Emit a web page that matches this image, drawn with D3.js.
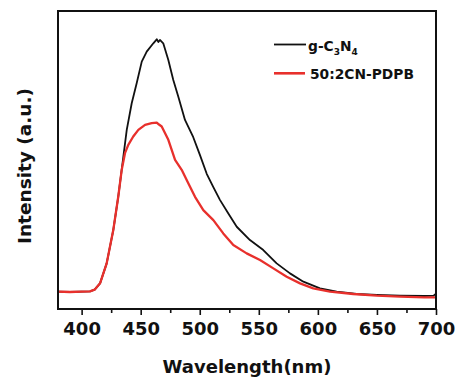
<!DOCTYPE html>
<html>
<head>
<meta charset="utf-8">
<script src="https://cdn.jsdelivr.net/npm/d3@7"></script>
<style>
  body { margin: 0; background: #fff; }
  text { font-family: "DejaVu Sans", sans-serif; font-weight: bold; fill: #111; }
</style>
</head>
<body>
<script>
// PL spectra (wavelength nm, intensity a.u.)
var blackWl = [380, 390, 400, 407.1, 411, 415.6, 421.2, 426.8, 431, 435.3, 438.2, 442.4, 446.6, 450.9, 455.1, 460.7, 463.6, 465, 466.3, 469.1, 473.4, 477.6, 481.8, 487.5, 494.5, 500.2, 505.9, 511.5, 517.2, 524.2, 531.3, 542.5, 553.8, 565.1, 576.4, 587.7, 601.8, 615.9, 632.9, 650, 669.5, 690, 698, 700];
var blackI  = [52, 51, 52, 53, 58, 77, 137, 237, 337, 457, 538, 618, 678, 743, 773, 798, 810, 802, 808, 798, 748, 688, 638, 568, 516, 462, 406, 366, 327, 287, 247, 207, 177, 137, 107, 82, 62, 52, 45, 42, 40, 39, 40, 46];

var redWl = [380, 390, 400, 407.1, 411, 415.6, 421.2, 426.8, 431, 433.9, 436.7, 439.5, 443.7, 448, 453.7, 459.3, 463.6, 465.5, 467.8, 473.4, 479.1, 484.7, 490.3, 496, 503, 511.5, 519.9, 528.4, 539.7, 551, 562.3, 573.6, 584.9, 596.1, 610.3, 630, 650, 669.5, 690, 700];
var redI  = [52, 51, 52, 53, 58, 77, 137, 237, 337, 417, 468, 493, 518, 538, 553, 558, 560, 554, 548, 508, 448, 418, 378, 337, 297, 267, 227, 192, 167, 147, 122, 97, 77, 62, 52, 45, 40, 37, 35, 35];

var xTicks = [400, 450, 500, 550, 600, 650, 700];
var xMinor = [425, 475, 525, 575, 625, 675];
var seriesNames = ["g-C3N4", "50:2CN-PDPB"];
var seriesColors = ["#111111", "#e8302c"];

(function(){

var width = 455, height = 377;
var mLeft = 58, mRight = 436, mTop = 11, mBottom = 309;

var svg = d3.select("body").append("svg")
    .attr("width", width)
    .attr("height", height);

var x = d3.scaleLinear().domain([380, 700]).range([mLeft, mRight]);
var y = d3.scaleLinear().domain([0, 895]).range([mBottom, mTop]);

//minor ticks first so the major axis draws on top
svg.append("g")
    .attr("transform", "translate(0," + mBottom + ")")
    .call(d3.axisBottom(x).tickValues(xMinor).tickSize(4).tickFormat(""))
    .call(function(g){ g.select(".domain").remove(); })
    .selectAll("line").attr("stroke", "#111").attr("stroke-width", 1.6);

var xAxis = svg.append("g")
    .attr("transform", "translate(0," + mBottom + ")")
    .call(d3.axisBottom(x).tickValues(xTicks).tickSize(6).tickSizeOuter(0).tickPadding(7));
xAxis.select(".domain").remove();
xAxis.selectAll("line").attr("stroke", "#111").attr("stroke-width", 1.6);
xAxis.selectAll("text")
    .style("font-family", "'DejaVu Sans', sans-serif")
    .style("font-weight", "bold")
    .style("font-size", "18px")
    .attr("fill", "#111");

//curves
var line = d3.line()
    .x(function(d){ return x(d[0]); })
    .y(function(d){ return y(d[1]); });

var blackData = blackWl.map(function(w, i){ return [w, blackI[i]]; });
var redData = redWl.map(function(w, i){ return [w, redI[i]]; });

svg.append("path")
    .datum(blackData)
    .attr("d", line)
    .attr("fill", "none")
    .attr("stroke", seriesColors[0])
    .attr("stroke-width", 1.8)
    .attr("stroke-linejoin", "round");

svg.append("path")
    .datum(redData)
    .attr("d", line)
    .attr("fill", "none")
    .attr("stroke", seriesColors[1])
    .attr("stroke-width", 2.3)
    .attr("stroke-linejoin", "round");

//frame
svg.append("rect")
    .attr("x", mLeft)
    .attr("y", mTop)
    .attr("width", mRight - mLeft)
    .attr("height", mBottom - mTop)
    .attr("fill", "none")
    .attr("stroke", "#111")
    .attr("stroke-width", 2);

//legend
svg.append("line")
    .attr("x1", 274).attr("x2", 306).attr("y1", 44.5).attr("y2", 44.5)
    .attr("stroke", seriesColors[0]).attr("stroke-width", 1.8);
var lg1 = svg.append("text")
    .attr("x", 308).attr("y", 51)
    .style("font-size", "13.8px");
lg1.append("tspan").text("g-C");
lg1.append("tspan").text("3").attr("dy", 4).style("font-size", "9px");
lg1.append("tspan").text("N").attr("dy", -4);
lg1.append("tspan").text("4").attr("dy", 4).style("font-size", "9px");

svg.append("line")
    .attr("x1", 274).attr("x2", 305).attr("y1", 73.3).attr("y2", 73.3)
    .attr("stroke", seriesColors[1]).attr("stroke-width", 2.6);
svg.append("text")
    .attr("x", 310).attr("y", 78.5)
    .style("font-size", "13.8px")
    .text(seriesNames[1]);

//axis titles
svg.append("text")
    .attr("x", 247).attr("y", 373)
    .attr("text-anchor", "middle")
    .style("font-size", "18px")
    .text("Wavelength(nm)");

svg.append("text")
    .attr("transform", "translate(31,166) rotate(-90)")
    .attr("text-anchor", "middle")
    .style("font-size", "18.5px")
    .text("Intensity (a.u.)");

})();
</script>
</body>
</html>
